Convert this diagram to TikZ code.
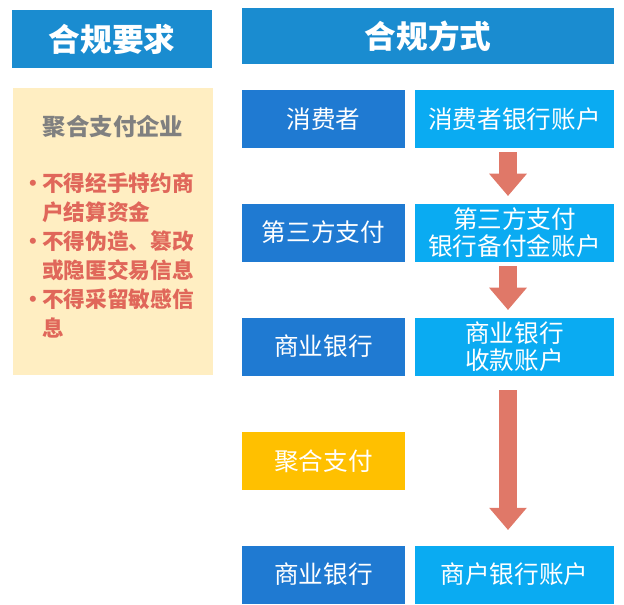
\documentclass[tikz,border=0pt]{standalone}
\usepackage{fontspec}
\setmainfont{Noto Sans CJK SC}
\usetikzlibrary{arrows.meta,positioning}
\definecolor{headblue}{HTML}{1A8CD0}
\definecolor{darkblue}{HTML}{1F7AD2}
\definecolor{lightblue}{HTML}{0AABF2}
\definecolor{aggyellow}{HTML}{FFC000}
\definecolor{panelyellow}{HTML}{FFEEC2}
\definecolor{arrowred}{HTML}{E07868}
\definecolor{textred}{HTML}{E0675A}
\newcommand{\bul}{\makebox[0.6cm][l]{·}}
\newcommand{\ind}{\hspace*{0.6cm}}
\tikzset{
  head/.style={fill=headblue,text=white,font=\fontsize{27}{30}\selectfont\bfseries,inner sep=0pt},
  left box/.style={fill=darkblue,text=white,minimum width=163*0.03cm,minimum height=58*0.03cm,font=\fontsize{21}{23}\selectfont,inner sep=0pt,align=center},
  right box/.style={fill=lightblue,text=white,minimum width=199*0.03cm,minimum height=58*0.03cm,font=\fontsize{21}{23}\selectfont,inner sep=0pt,align=center},
  flow/.style={draw=arrowred,line width=15pt,-{Triangle[width=31pt,length=19pt]}}
}
\begin{document}
\begin{tikzpicture}[x=0.03cm,y=-0.03cm]
  \useasboundingbox (0,0) rectangle (624,604);
  %%%%%%%%%%%%%%%%Headers%%%%%%%%%%%%%%
  \node[head,minimum width=200*0.03cm,minimum height=58*0.03cm] (req head) at (112,39) {合规要求};
  \node[head,minimum width=372*0.03cm,minimum height=56*0.03cm] (way head) at (428,36) {合规方式};

  %%%%%%%%%%%%%%%%Requirement panel%%%%%%%%%%%%%%
  \fill[panelyellow] (13,88) rectangle (213,375);
  \node[text=gray,font=\fontsize{20}{22}\selectfont\bfseries] (agg title) at (113,127) {聚合支付企业};
  \node[text=textred,font=\fontsize{18.5}{24.6}\selectfont\bfseries,text width=5.8cm,align=left,anchor=north west,inner sep=0pt] (rules) at (22,173)
    {\bul 不得经手特约商\\\ind 户结算资金\\
     \bul 不得伪造、篡改\\\ind 或隐匿交易信息\\
     \bul 不得采留敏感信\\\ind 息};

  %%%%%%%%%%%%%%%%Flow columns%%%%%%%%%%%%%%
  \node[left box] (consumer) at (323.5,119) {消费者};
  \node[left box] (third) at (323.5,232.5) {第三方支付};
  \node[left box] (bank a) at (323.5,346.5) {商业银行};
  \node[left box,fill=aggyellow] (aggregator) at (323.5,461) {聚合支付};
  \node[left box] (bank b) at (323.5,574.5) {商业银行};

  \node[right box] (consumer acct) at (514.5,119) {消费者银行账户};
  \node[right box] (reserve acct) at (514.5,232.5) {第三方支付\\银行备付金账户};
  \node[right box] (collect acct) at (514.5,346.5) {商业银行\\收款账户};
  \node[right box] (merchant acct) at (514.5,574.5) {商户银行账户};

  %%%%%%%%%%%%%%%%Arrows%%%%%%%%%%%%%%
  \coordinate (a1 s) at (508,152);
  \coordinate (a1 e) at (508,196);
  \coordinate (a2 s) at (508,266);
  \coordinate (a2 e) at (508,310);
  \coordinate (a3 s) at (508,390);
  \coordinate (a3 e) at (508,530);
  \draw[flow] (a1 s) -- (a1 e);
  \draw[flow] (a2 s) -- (a2 e);
  \draw[flow] (a3 s) -- (a3 e);
\end{tikzpicture}
\end{document}
